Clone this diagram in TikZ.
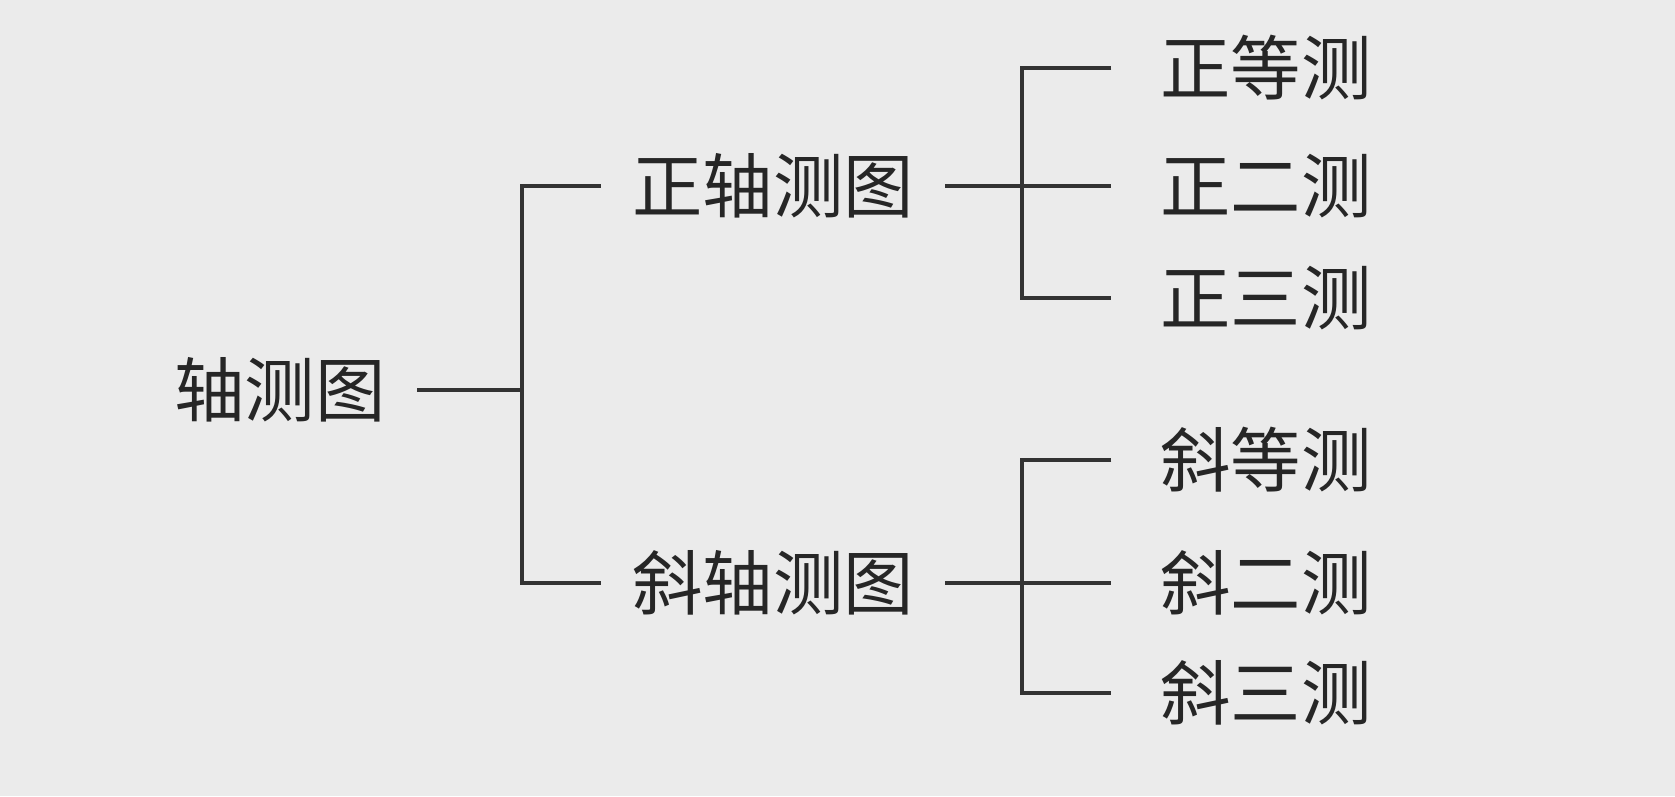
\documentclass[tikz,border=0pt]{standalone}
\usepackage{fontspec}
\newfontfamily\cjk{Noto Sans CJK SC}
\usetikzlibrary{calc}
\tikzset{
	lbl/.style={font=\cjk\fontsize{20}{24}\selectfont, text=black!85, inner sep=0pt, outer sep=9pt},
	leaf/.style={lbl, outer sep=14pt},
	bar/.style={line width=1pt, black!80}
}
\begin{document}
\begin{tikzpicture}[x=0.01cm, y=-0.01cm]
		%%%%% PAPER %%%%%
		\fill[black!8] (0, 0) rectangle (1675, 796);
		\useasboundingbox (0, 0) rectangle (1675, 796);
		
		%%%%% LABELS %%%%%
		\node[lbl] (root) at (280, 390) {轴测图};
		\node[lbl] (zheng) at (773, 186) {正轴测图};
		\node[lbl] (xie) at (773, 583) {斜轴测图};
		
		\node[leaf] (zdeng) at (1266, 68) {正等测};
		\node[leaf] (zer) at (1266, 186) {正二测};
		\node[leaf] (zsan) at (1266, 298) {正三测};
		
		\node[leaf] (xdeng) at (1266, 460) {斜等测};
		\node[leaf] (xer) at (1266, 583) {斜二测};
		\node[leaf] (xsan) at (1266, 693) {斜三测};
		
		%%%%% BRACKETS %%%%%
		\coordinate (b0) at (522, 0);
		\coordinate (b1) at (1022, 0);
		
		\draw[bar] (root.east) -- (root.east -| b0);
		\draw[bar] (zheng.west) -- (zheng.west -| b0) -- (xie.west -| b0) -- (xie.west);
		
		\draw[bar] (zheng.east) -- (zer.west);
		\draw[bar] (zdeng.west) -- (zdeng.west -| b1) -- (zsan.west -| b1) -- (zsan.west);
		
		\draw[bar] (xie.east) -- (xer.west);
		\draw[bar] (xdeng.west) -- (xdeng.west -| b1) -- (xsan.west -| b1) -- (xsan.west);
\end{tikzpicture}
\end{document}
